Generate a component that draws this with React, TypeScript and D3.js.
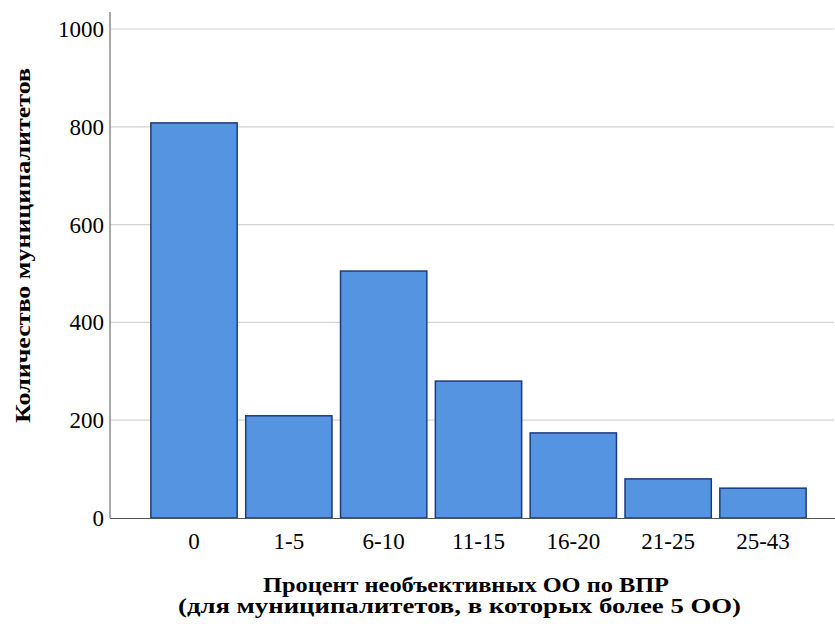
import React from "react";
import * as d3 from "d3";

const categories = ["0", "1-5", "6-10", "11-15", "16-20", "21-25", "25-43"];
const counts = [808, 209, 505, 280, 174, 80, 61];
const yTicks = [0, 200, 400, 600, 800, 1000];
const xTitle1 = "Процент необъективных ОО по ВПР";
const xTitle2 = "(для муниципалитетов, в которых более 5 ОО)";
const yTitle = "Количество муниципалитетов";

export default function App() {
  const W = 835, H = 624;
  const x = d3.scaleBand<string>().domain(categories).range([146.6, 810.4]).paddingInner(0.09).paddingOuter(0.045);
  const y = d3.scaleLinear().domain([0, 1000]).range([518, 29]);
  const font = "'Liberation Serif', 'Times New Roman', serif";
  return (
    <svg width={W} height={H} style={{ position: "absolute", left: 0, top: 0 }} fontFamily={font}>
      <rect width={W} height={H} fill="#fff" />
      {yTicks.filter(t => t > 0).map(t => (
        <line key={t} x1={110} x2={834} y1={y(t)} y2={y(t)} stroke="#d4d4d4" strokeWidth={1.2} />
      ))}
      <line x1={110} x2={110} y1={12} y2={518} stroke="#8c8c8c" strokeWidth={1.5} />
      {categories.map((c, i) => (
        <rect key={c} x={x(c)!} y={y(counts[i])} width={x.bandwidth()} height={y(0) - y(counts[i])}
          fill="#5594E0" stroke="#1C3A80" strokeWidth={1.5} />
      ))}
      <line x1={110} x2={835} y1={518.5} y2={518.5} stroke="#555" strokeWidth={1.2} />
      {yTicks.map(t => (
        <text key={t} x={104} y={y(t) + 8} textAnchor="end" fontSize={23} fill="#000">{t}</text>
      ))}
      {categories.map(c => (
        <text key={c} x={x(c)! + x.bandwidth() / 2} y={549} textAnchor="middle" fontSize={23} fill="#000">{c}</text>
      ))}
      <text x={466} y={592} textAnchor="middle" fontSize={20} fontWeight="bold" textLength={406} lengthAdjust="spacingAndGlyphs">{xTitle1}</text>
      <text x={459.5} y={613} textAnchor="middle" fontSize={20} fontWeight="bold" textLength={563} lengthAdjust="spacingAndGlyphs">{xTitle2}</text>
      <text transform="translate(30,245.5) rotate(-90)" textAnchor="middle" fontSize={21} fontWeight="bold" textLength={355} lengthAdjust="spacingAndGlyphs">{yTitle}</text>
    </svg>
  );
}
